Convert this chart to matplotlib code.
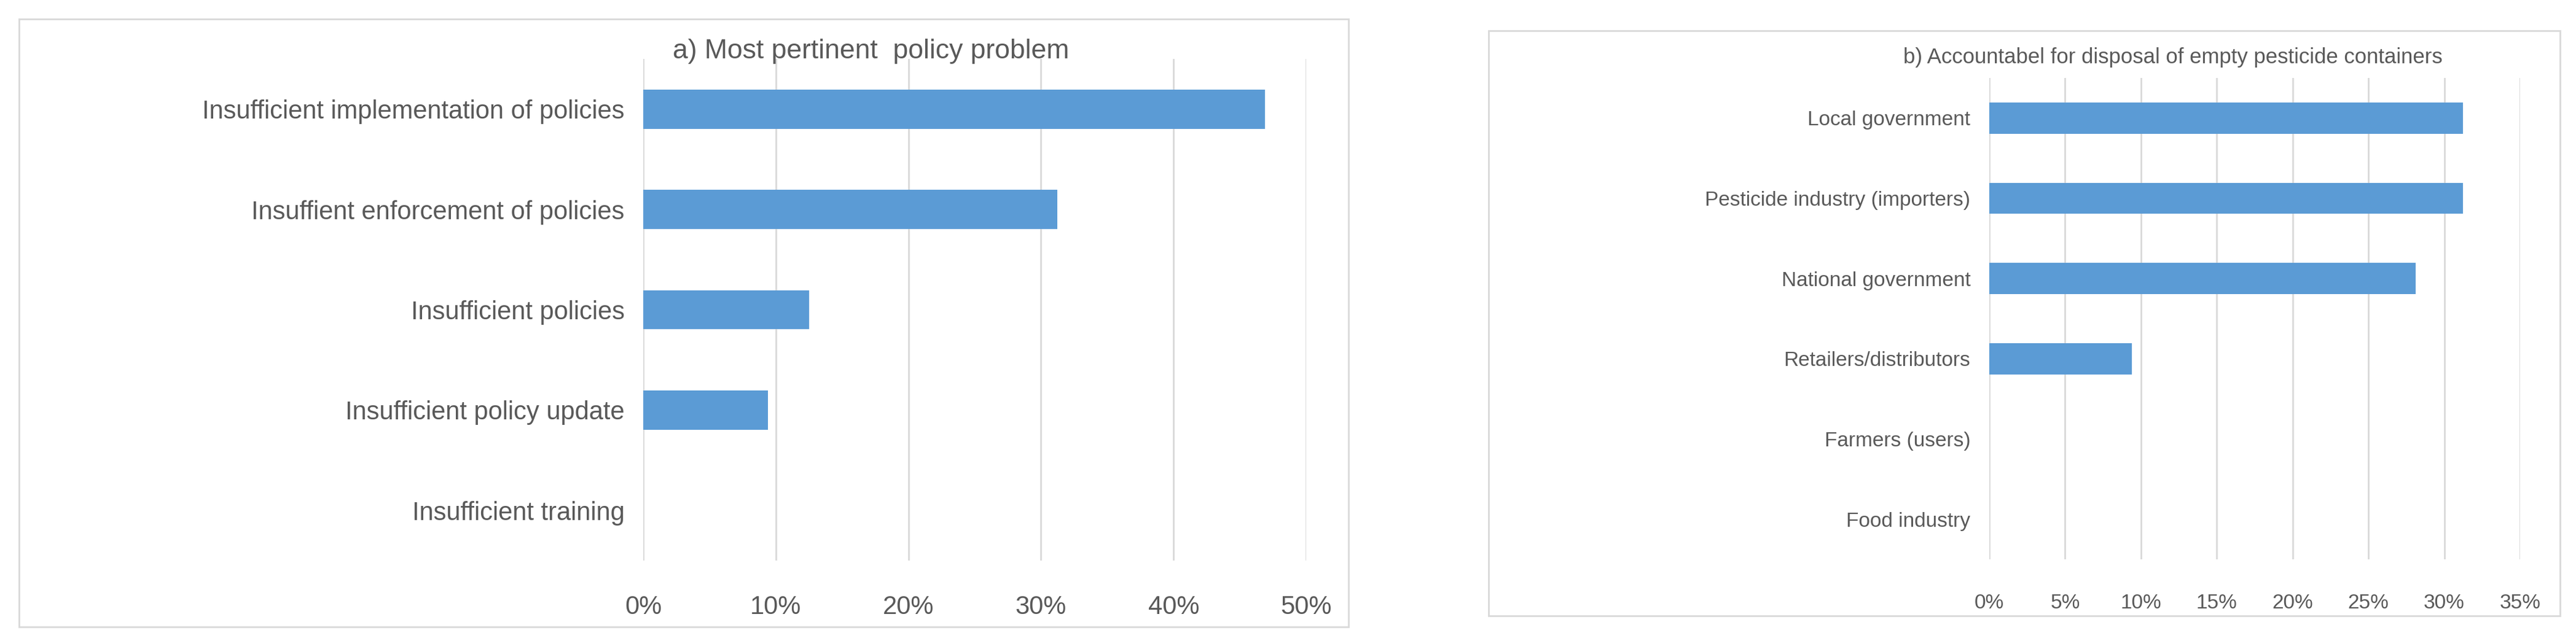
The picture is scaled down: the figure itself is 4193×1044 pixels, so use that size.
import matplotlib.pyplot as plt
from matplotlib.patches import Rectangle
from matplotlib.ticker import PercentFormatter

plt.rcParams['font.family'] = ['Liberation Sans', 'DejaVu Sans']

cats_a = ["Insufficient implementation of policies", "Insuffient enforcement of policies",
          "Insufficient policies", "Insufficient policy update", "Insufficient training"]
vals_a = [46.9, 31.25, 12.5, 9.4, 0]

cats_b = ["Local government", "Pesticide industry (importers)", "National government",
          "Retailers/distributors", "Farmers (users)", "Food industry"]
vals_b = [31.25, 31.25, 28.1, 9.4, 0, 0]

W, H = 4193, 1044
blue = '#5b9bd5'
grey = '#595959'
fig = plt.figure(figsize=(W/100, H/100), dpi=100)

# panel frames
for x0, y0, x1, y1 in [(31, 31, 2195, 1021), (2423, 50, 4167, 1003)]:
    fig.add_artist(Rectangle((x0/W, 1-y1/H), (x1-x0)/W, (y1-y0)/H, transform=fig.transFigure,
                             fill=False, edgecolor='#d9d9d9', lw=2))

def panel(rect, cats, vals, xmax, step, fs, title, tx, ty, tfs):
    x0, y0, x1, y1 = rect
    ax = fig.add_axes([x0/W, 1-y1/H, (x1-x0)/W, (y1-y0)/H])
    ypos = list(range(len(cats)))[::-1]
    ax.barh(ypos, vals, height=0.39, color=blue)
    ax.set_yticks(ypos)
    ax.set_yticklabels(cats, fontsize=fs, color=grey)
    ax.set_ylim(-0.5, len(cats)-0.5)
    ax.set_xlim(0, xmax)
    ax.set_xticks([i*step for i in range(int(xmax/step)+1)])
    ax.xaxis.set_major_formatter(PercentFormatter(decimals=0))
    ax.tick_params(length=0, labelsize=fs, colors=grey)
    ax.tick_params(axis='x', pad=40)
    ax.tick_params(axis='y', pad=22)
    for s in ax.spines.values():
        s.set_visible(False)
    ax.grid(axis='x', color='#d9d9d9', lw=2)
    ax.set_axisbelow(True)
    fig.text(tx/W, 1-ty/H, title, ha='center', va='center', fontsize=tfs, color=grey)

panel((1047, 96, 2126, 913), cats_a, vals_a, 50, 10, 30,
      "a) Most pertinent  policy problem", 1418, 84, 32)
panel((3238, 127, 4102, 911), cats_b, vals_b, 35, 5, 24,
      "b) Accountabel for disposal of empty pesticide containers", 3537, 94, 25)

fig.savefig("out.png", dpi=100)
